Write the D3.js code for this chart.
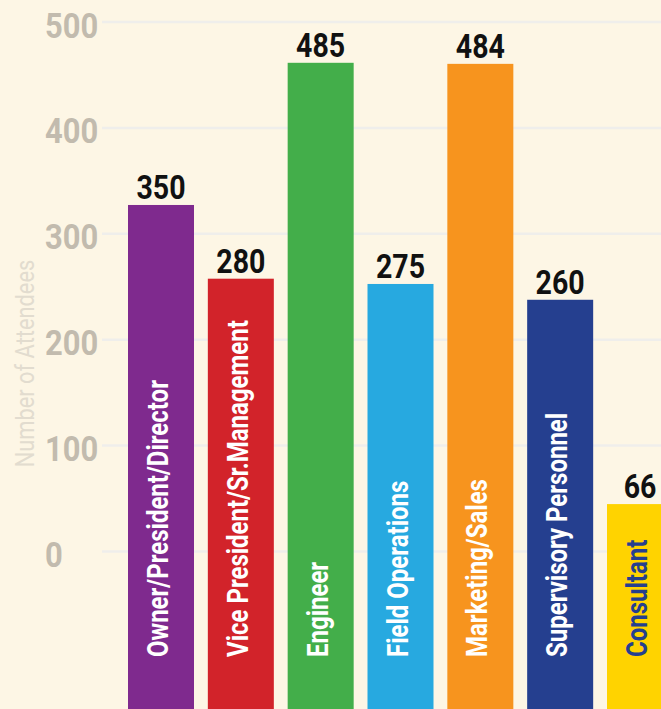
<!DOCTYPE html>
<html>
<head>
<meta charset="utf-8">
<script src="https://cdn.jsdelivr.net/npm/d3@7"></script>
<style>
  html, body { margin: 0; padding: 0; background: #fdf6e5; }
  svg { display: block; }
  text { font-family: Roboto, "Liberation Sans", sans-serif; }
</style>
</head>
<body>
<svg id="chart" width="661" height="709"></svg>
<script>
// ---- data ----
const categories = [
  "Owner/President/Director",
  "Vice President/Sr.Management",
  "Engineer",
  "Field Operations",
  "Marketing/Sales",
  "Supervisory Personnel",
  "Consultant"
];
const values = [350, 280, 485, 275, 484, 260, 66];
const tickValues = [0, 100, 200, 300, 400, 500];
const axisTitle = "Number of Attendees";

// ---- styles ----
const barColors = ["#7f2a8e", "#d2232a", "#43ae4a", "#27a9e0", "#f7941e", "#253f8f", "#ffd300"];
const labelColors = ["#ffffff", "#ffffff", "#ffffff", "#ffffff", "#ffffff", "#ffffff", "#253f8f"];

const W = 661, H = 709;
const svg = d3.select("#chart");

svg.append("rect").attr("width", W).attr("height", H).attr("fill", "#fdf6e5");

const x = d3.scaleBand().domain(categories).range([128, 673]).paddingInner(0.1733).paddingOuter(0);
const yGrid = d3.scaleLinear().domain([0, 500]).range([551, 21.5]);
const yBar = d3.scaleLinear().domain([0, 500]).range([573.6, 47]);
const color = d3.scaleOrdinal().domain(categories).range(barColors);
const labelColor = d3.scaleOrdinal().domain(categories).range(labelColors);

// gridlines + tick labels
const axis = d3.axisRight(yGrid).tickValues(tickValues).tickSize(W - 102).tickPadding(0).tickFormat(d3.format("d"));
const gAxis = svg.append("g").attr("transform", "translate(102,0)").call(axis);
gAxis.select(".domain").remove();
gAxis.selectAll(".tick line").attr("stroke", "#efeeeb").attr("stroke-width", 2.5);
gAxis.selectAll(".tick text")
  .attr("x", null).attr("y", null).attr("dy", null)
  .attr("transform", "translate(-57,15.5) scale(0.86,1)")
  .attr("text-anchor", "start")
  .attr("font-size", 36)
  .attr("font-weight", "bold")
  .attr("fill", "#c2bbae");

// axis title
svg.append("text")
  .attr("transform", `translate(34,363.5) rotate(-90) scale(0.84,1)`)
  .attr("text-anchor", "middle")
  .attr("font-size", 26)
  .attr("fill", "#e2dccf")
  .text(axisTitle);

const data = categories.map((c, i) => ({ c, v: values[i] }));

// bars
svg.append("g").selectAll("rect").data(data).join("rect")
  .attr("x", d => x(d.c))
  .attr("width", x.bandwidth())
  .attr("y", d => yBar(d.v))
  .attr("height", d => H - yBar(d.v) + 2)
  .attr("fill", d => color(d.c));

// value labels
svg.append("g").selectAll("text").data(data).join("text")
  .attr("transform", d => `translate(${x(d.c) + x.bandwidth() / 2},${yBar(d.v) - 6}) scale(0.84,1)`)
  .attr("text-anchor", "middle")
  .attr("font-size", 34)
  .attr("font-weight", "bold")
  .attr("fill", "#111")
  .text(d => d.v);

// category labels inside bars
svg.append("g").selectAll("text").data(data).join("text")
  .attr("transform", d => `translate(${x(d.c) + x.bandwidth() / 2 + 7},657) rotate(-90) scale(0.8,1)`)
  .attr("text-anchor", "start")
  .attr("font-size", 30)
  .attr("font-weight", "bold")
  .attr("fill", d => labelColor(d.c))
  .text(d => d.c);
</script>
</body>
</html>
